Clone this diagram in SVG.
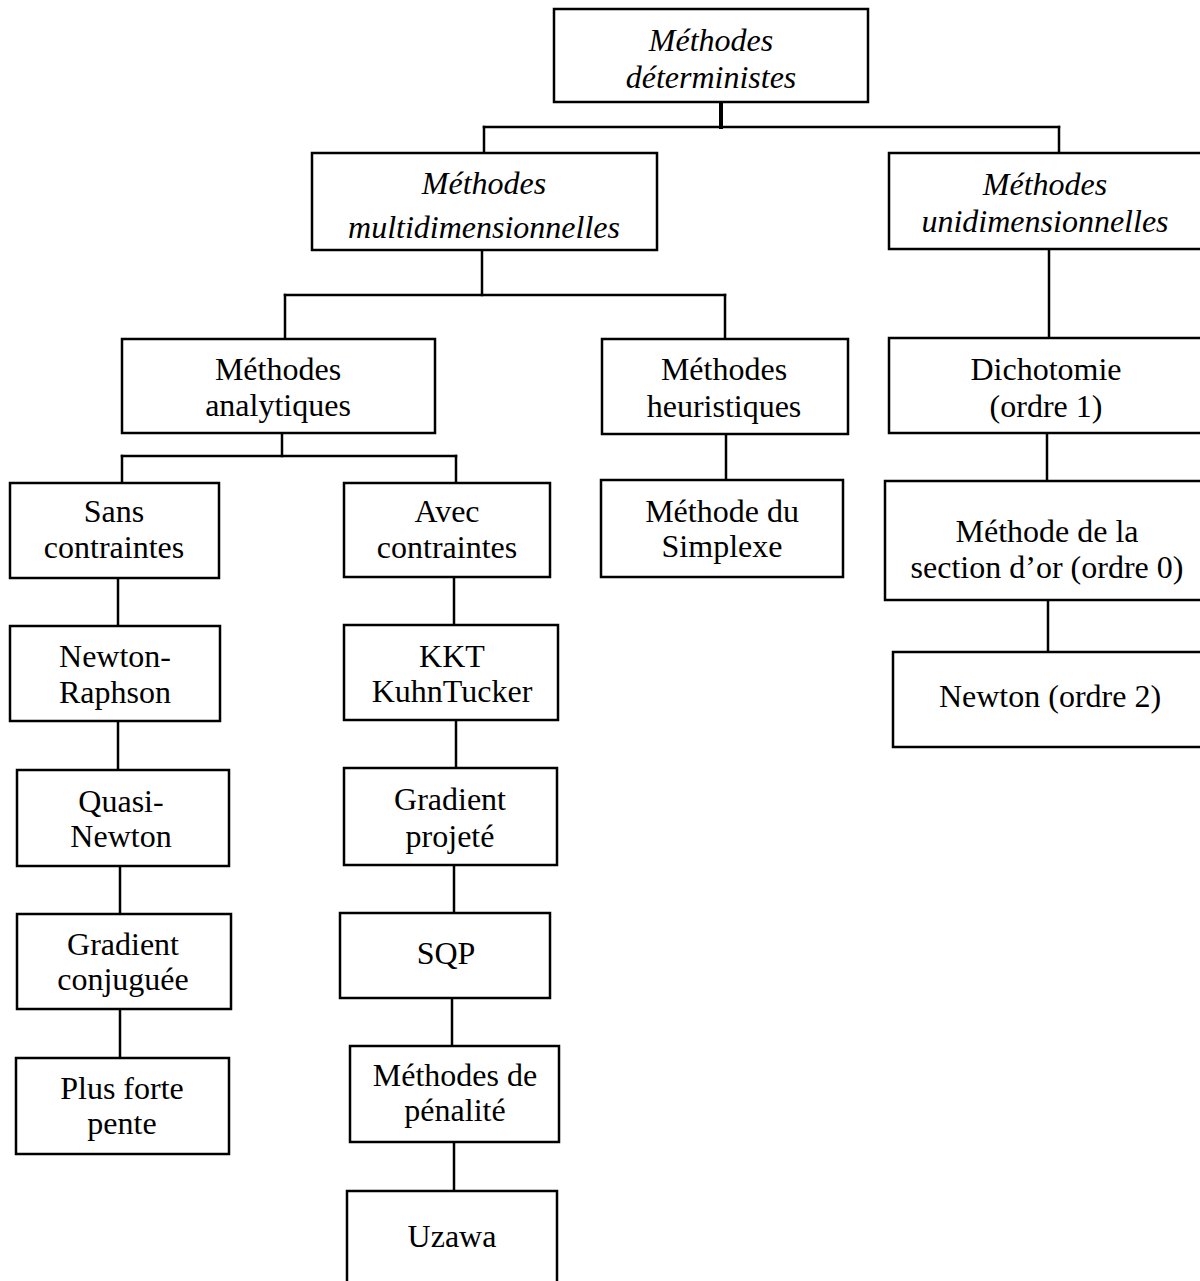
<svg xmlns="http://www.w3.org/2000/svg" width="1200" height="1281" viewBox="0 0 1200 1281">
<style>
  .box { fill: #ffffff; stroke: #000000; stroke-width: 2.5; }
  .lbl { font-family: "Liberation Serif", "Times New Roman", serif; font-size: 32px; fill: #000000; text-anchor: middle; }
  .it { font-style: italic; }
  .conn line { stroke: #000000; stroke-width: 2.5; stroke-linecap: square; }
</style>
<rect x="0" y="0" width="1200" height="1281" fill="#ffffff"/>
<g id="connectors" class="conn">
  <line x1="721" y1="102" x2="721" y2="127" style="stroke-width:4"/>
  <line x1="484" y1="127" x2="1059" y2="127"/>
  <line x1="484" y1="127" x2="484" y2="153"/>
  <line x1="1059" y1="127" x2="1059" y2="153"/>
  <line x1="482" y1="250" x2="482" y2="295"/>
  <line x1="285" y1="295" x2="725" y2="295"/>
  <line x1="285" y1="295" x2="285" y2="339"/>
  <line x1="725" y1="295" x2="725" y2="339"/>
  <line x1="1049" y1="249" x2="1049" y2="338"/>
  <line x1="282" y1="433" x2="282" y2="456"/>
  <line x1="122" y1="456" x2="456" y2="456"/>
  <line x1="122" y1="456" x2="122" y2="483"/>
  <line x1="456" y1="456" x2="456" y2="483"/>
  <line x1="726" y1="434" x2="726" y2="480"/>
  <line x1="1047" y1="433" x2="1047" y2="481"/>
  <line x1="1048" y1="600" x2="1048" y2="652"/>
  <line x1="118" y1="578" x2="118" y2="626"/>
  <line x1="118" y1="721" x2="118" y2="770"/>
  <line x1="120" y1="866" x2="120" y2="914"/>
  <line x1="120" y1="1009" x2="120" y2="1058"/>
  <line x1="454" y1="577" x2="454" y2="625"/>
  <line x1="456" y1="720" x2="456" y2="768"/>
  <line x1="454" y1="865" x2="454" y2="913"/>
  <line x1="452" y1="998" x2="452" y2="1046"/>
  <line x1="454" y1="1142" x2="454" y2="1191"/>
</g>
<g id="n-deterministes">
  <rect class="box" x="554" y="9" width="314" height="93"/>
  <text class="lbl it" x="711" y="51">Méthodes</text>
  <text class="lbl it" x="711" y="88">déterministes</text>
</g>
<g id="n-multi">
  <rect class="box" x="312" y="153" width="345" height="97"/>
  <text class="lbl it" x="484" y="194">Méthodes</text>
  <text class="lbl it" x="484" y="238">multidimensionnelles</text>
</g>
<g id="n-uni">
  <rect class="box" x="889" y="153" width="316" height="96"/>
  <text class="lbl it" x="1045" y="195">Méthodes</text>
  <text class="lbl it" x="1045" y="232">unidimensionnelles</text>
</g>
<g id="n-analytiques">
  <rect class="box" x="122" y="339" width="313" height="94"/>
  <text class="lbl" x="278" y="380">Méthodes</text>
  <text class="lbl" x="278" y="416">analytiques</text>
</g>
<g id="n-heuristiques">
  <rect class="box" x="602" y="339" width="246" height="95"/>
  <text class="lbl" x="724" y="380">Méthodes</text>
  <text class="lbl" x="724" y="417">heuristiques</text>
</g>
<g id="n-dichotomie">
  <rect class="box" x="889" y="338" width="316" height="95"/>
  <text class="lbl" x="1046" y="380">Dichotomie</text>
  <text class="lbl" x="1046" y="417">(ordre 1)</text>
</g>
<g id="n-sans">
  <rect class="box" x="10" y="483" width="209" height="95"/>
  <text class="lbl" x="114" y="522">Sans</text>
  <text class="lbl" x="114" y="558">contraintes</text>
</g>
<g id="n-avec">
  <rect class="box" x="344" y="483" width="206" height="94"/>
  <text class="lbl" x="447" y="522">Avec</text>
  <text class="lbl" x="447" y="558">contraintes</text>
</g>
<g id="n-simplexe">
  <rect class="box" x="601" y="480" width="242" height="97"/>
  <text class="lbl" x="722" y="522">Méthode du</text>
  <text class="lbl" x="722" y="557">Simplexe</text>
</g>
<g id="n-section-or">
  <rect class="box" x="885" y="481" width="320" height="119"/>
  <text class="lbl" x="1047" y="542">Méthode de la</text>
  <text class="lbl" x="1047" y="578">section d’or (ordre 0)</text>
</g>
<g id="n-newton">
  <rect class="box" x="893" y="652" width="312" height="95"/>
  <text class="lbl" x="1050" y="707">Newton (ordre 2)</text>
</g>
<g id="n-newton-raphson">
  <rect class="box" x="10" y="626" width="210" height="95"/>
  <text class="lbl" x="115" y="667">Newton-</text>
  <text class="lbl" x="115" y="703">Raphson</text>
</g>
<g id="n-quasi-newton">
  <rect class="box" x="17" y="770" width="212" height="96"/>
  <text class="lbl" x="121" y="812">Quasi-</text>
  <text class="lbl" x="121" y="847">Newton</text>
</g>
<g id="n-gradient-conjuguee">
  <rect class="box" x="17" y="914" width="214" height="95"/>
  <text class="lbl" x="123" y="955">Gradient</text>
  <text class="lbl" x="123" y="990">conjuguée</text>
</g>
<g id="n-plus-forte-pente">
  <rect class="box" x="16" y="1058" width="213" height="96"/>
  <text class="lbl" x="122" y="1099">Plus forte</text>
  <text class="lbl" x="122" y="1134">pente</text>
</g>
<g id="n-kkt">
  <rect class="box" x="344" y="625" width="214" height="95"/>
  <text class="lbl" x="452" y="667">KKT</text>
  <text class="lbl" x="452" y="702">KuhnTucker</text>
</g>
<g id="n-gradient-projete">
  <rect class="box" x="344" y="768" width="213" height="97"/>
  <text class="lbl" x="450" y="810">Gradient</text>
  <text class="lbl" x="450" y="847">projeté</text>
</g>
<g id="n-sqp">
  <rect class="box" x="340" y="913" width="210" height="85"/>
  <text class="lbl" x="446" y="964">SQP</text>
</g>
<g id="n-penalite">
  <rect class="box" x="350" y="1046" width="209" height="96"/>
  <text class="lbl" x="455" y="1086">Méthodes de</text>
  <text class="lbl" x="455" y="1121">pénalité</text>
</g>
<g id="n-uzawa">
  <rect class="box" x="347" y="1191" width="210" height="100"/>
  <text class="lbl" x="452" y="1247">Uzawa</text>
</g>
</svg>
